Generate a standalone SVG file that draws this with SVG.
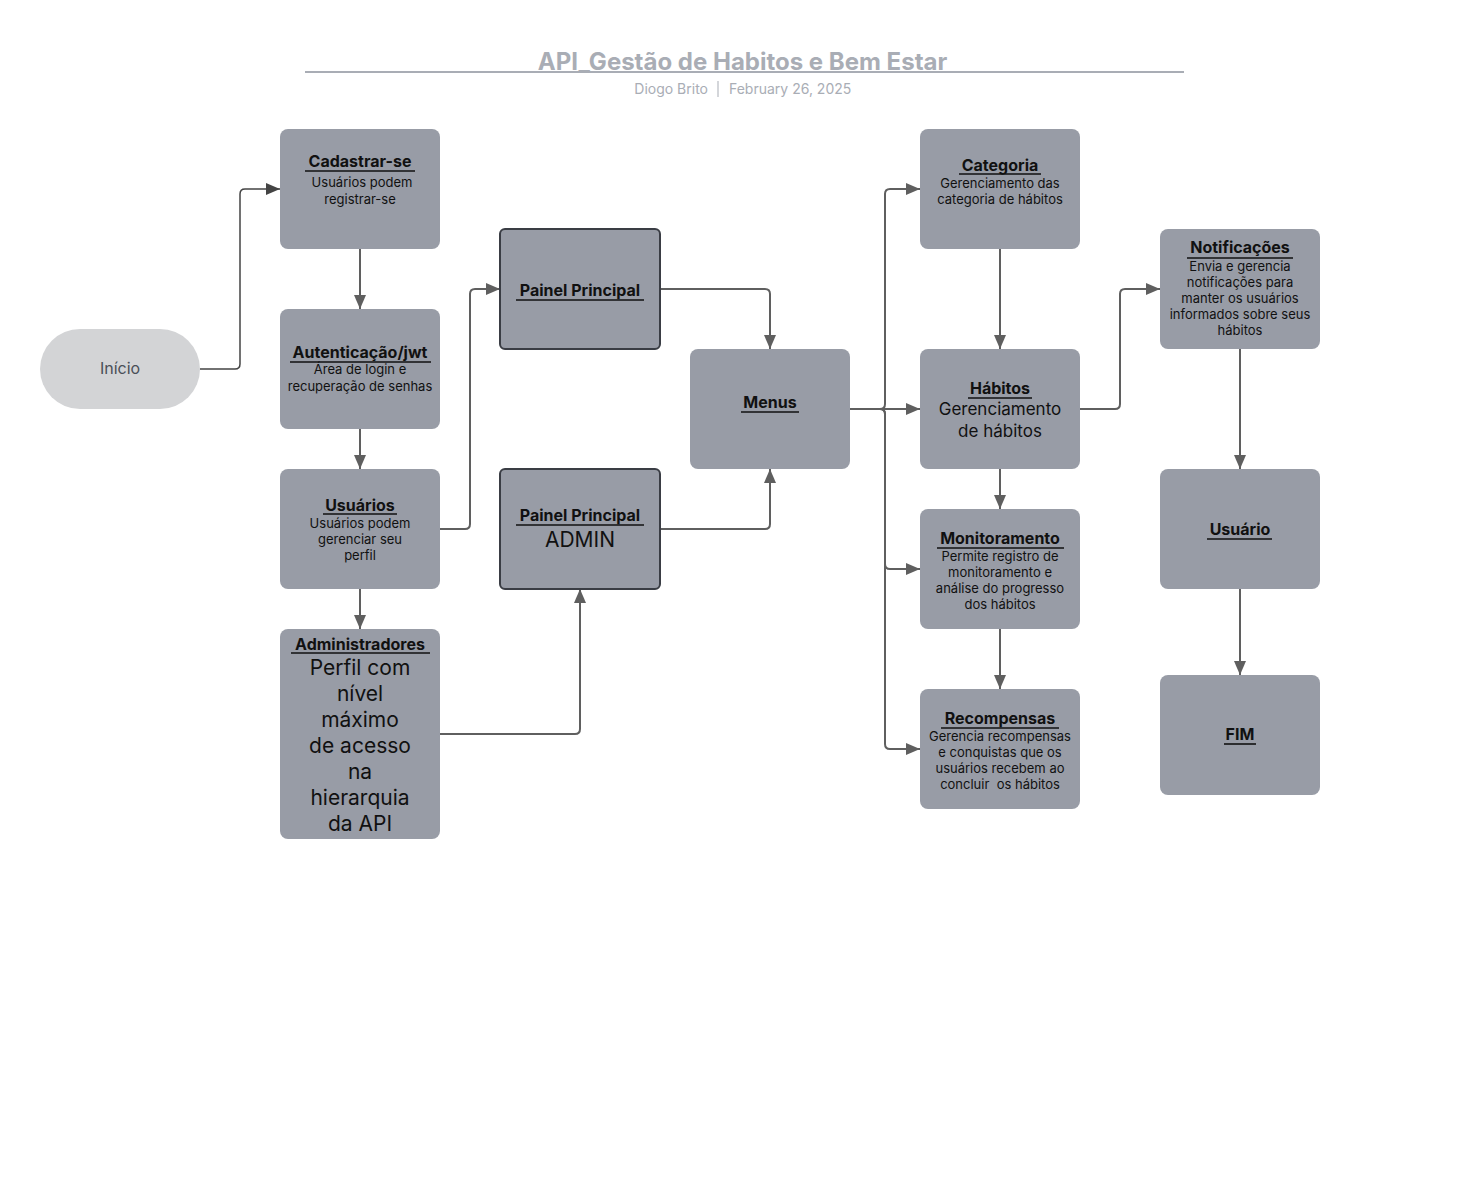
<svg xmlns="http://www.w3.org/2000/svg" width="1460" height="1190" viewBox="0 0 1460 1190">
<defs>
<marker id="arr" markerUnits="userSpaceOnUse" markerWidth="14" markerHeight="12" refX="14" refY="6" orient="auto">
<path d="M0,0 L14,6 L0,12 z" fill="#5f5f5f"/>
</marker>
<marker id="arr2" markerUnits="userSpaceOnUse" markerWidth="14" markerHeight="12" refX="14" refY="6" orient="auto">
<path d="M0,0 L14,6 L0,12 z" fill="#444"/>
</marker>
<style>
.n{fill:#989ca6}
.p{fill:#989ca6;stroke:#3a3d44;stroke-width:2}
.t{font-family:Inter,"Liberation Sans",sans-serif;font-weight:700;font-size:16px;fill:#111;text-anchor:middle}
.d{font-family:Inter,"Liberation Sans",sans-serif;font-size:13px;fill:#111;text-anchor:middle}
.b{font-family:Inter,"Liberation Sans",sans-serif;font-size:17px;fill:#111;text-anchor:middle}
.B{font-family:Inter,"Liberation Sans",sans-serif;font-size:21px;fill:#111;text-anchor:middle}
.u{stroke:#111;stroke-width:1.6}
.c{fill:none;stroke:#5f5f5f;stroke-width:2;marker-end:url(#arr)}
</style>
</defs>
<rect width="1460" height="1190" fill="#fff"/>
<g id="header">
<text x="742.5" y="70" font-family="Inter,'Liberation Sans',sans-serif" font-weight="700" font-size="24" fill="#a9adb5" text-anchor="middle">API_Gestão de Habitos e Bem Estar</text>
<line x1="305" y1="72" x2="1184" y2="72" stroke="#a9adb5" stroke-width="2"/>
<text x="708" y="94" font-family="Inter,'Liberation Sans',sans-serif" font-size="14" fill="#a9adb5" text-anchor="end">Diogo Brito</text>
<line x1="718" y1="81" x2="718" y2="97" stroke="#a9adb5" stroke-width="1"/>
<text x="729" y="94" font-family="Inter,'Liberation Sans',sans-serif" font-size="14" fill="#a9adb5">February 26, 2025</text>
</g>
<g id="connectors">
<path d="M200,369 H235 Q240,369 240,364 V194 Q240,189 245,189 H280" fill="none" stroke="#444" stroke-width="1.5" marker-end="url(#arr2)"/>
<path class="c" d="M360,249 V309"/>
<path class="c" d="M360,429 V469"/>
<path class="c" d="M360,589 V629"/>
<path class="c" d="M440,529 H465 Q470,529 470,524 V294 Q470,289 475,289 H500"/>
<path class="c" d="M440,734 H575 Q580,734 580,729 V589"/>
<path class="c" d="M660,289 H765 Q770,289 770,294 V349"/>
<path class="c" d="M660,529 H765 Q770,529 770,524 V469"/>
<path class="c" d="M850,409 H920"/>
<path class="c" d="M850,409 H880 Q885,409 885,404 V194 Q885,189 890,189 H920"/>
<path class="c" d="M850,409 H880 Q885,409 885,414 V564 Q885,569 890,569 H920"/>
<path class="c" d="M850,409 H880 Q885,409 885,414 V744 Q885,749 890,749 H920"/>
<path class="c" d="M1000,249 V349"/>
<path class="c" d="M1000,469 V509"/>
<path class="c" d="M1000,629 V689"/>
<path class="c" d="M1080,409 H1115 Q1120,409 1120,404 V294 Q1120,289 1125,289 H1160"/>
<path class="c" d="M1240,349 V469"/>
<path class="c" d="M1240,589 V675"/>
</g>
<g id="inicio">
<rect x="40" y="329" width="160" height="80" rx="40" fill="#d3d4d6"/>
<text x="120" y="374" font-family="Inter,'Liberation Sans',sans-serif" font-size="16" fill="#4a4f58" text-anchor="middle">Início</text>
</g>
<g id="cadastrar">
<rect class="n" x="280" y="129" width="160" height="120" rx="8"/>
<text class="t" x="360" y="167">Cadastrar-se</text>
<line class="u" x1="305" y1="171" x2="415" y2="171"/>
<text class="d" x="362" y="187">Usuários podem</text>
<text class="d" x="360" y="204">registrar-se</text>
</g>
<g id="autenticacao">
<rect class="n" x="280" y="309" width="160" height="120" rx="8"/>
<text class="t" x="360" y="358">Autenticação/jwt</text>
<line class="u" x1="290" y1="362" x2="431" y2="362"/>
<text class="d" x="360" y="374">Área de login e</text>
<text class="d" x="360" y="391">recuperação de senhas</text>
</g>
<g id="usuarios">
<rect class="n" x="280" y="469" width="160" height="120" rx="8"/>
<text class="t" x="360" y="511">Usuários</text>
<line class="u" x1="323" y1="514" x2="397" y2="514"/>
<text class="d" x="360" y="528">Usuários podem</text>
<text class="d" x="360" y="544">gerenciar seu</text>
<text class="d" x="360" y="560">perfil</text>
</g>
<g id="administradores">
<rect class="n" x="280" y="629" width="160" height="210" rx="8"/>
<text class="t" x="360" y="650">Administradores</text>
<line class="u" x1="291" y1="653" x2="430" y2="653"/>
<text class="B" x="360" y="675">Perfil com</text>
<text class="B" x="360" y="701">nível</text>
<text class="B" x="360" y="727">máximo</text>
<text class="B" x="360" y="753">de acesso</text>
<text class="B" x="360" y="779">na</text>
<text class="B" x="360" y="805">hierarquia</text>
<text class="B" x="360" y="831">da API</text>
</g>
<g id="painel">
<rect class="p" x="500" y="229" width="160" height="120" rx="5"/>
<text class="t" x="580" y="296">Painel Principal</text>
<line class="u" x1="516" y1="300" x2="644" y2="300"/>
</g>
<g id="painel-admin">
<rect class="p" x="500" y="469" width="160" height="120" rx="5"/>
<text class="t" x="580" y="521">Painel Principal</text>
<line class="u" x1="516" y1="525" x2="644" y2="525"/>
<text class="B" x="580" y="547">ADMIN</text>
</g>
<g id="menus">
<rect class="n" x="690" y="349" width="160" height="120" rx="8"/>
<text class="t" x="770" y="408">Menus</text>
<line class="u" x1="741" y1="412" x2="799" y2="412"/>
</g>
<g id="categoria">
<rect class="n" x="920" y="129" width="160" height="120" rx="8"/>
<text class="t" x="1000" y="171">Categoria</text>
<line class="u" x1="959" y1="174" x2="1041" y2="174"/>
<text class="d" x="1000" y="188">Gerenciamento das</text>
<text class="d" x="1000" y="204">categoria de hábitos</text>
</g>
<g id="habitos">
<rect class="n" x="920" y="349" width="160" height="120" rx="8"/>
<text class="t" x="1000" y="394">Hábitos</text>
<line class="u" x1="968" y1="398" x2="1032" y2="398"/>
<text class="b" x="1000" y="415">Gerenciamento</text>
<text class="b" x="1000" y="437">de hábitos</text>
</g>
<g id="monitoramento">
<rect class="n" x="920" y="509" width="160" height="120" rx="8"/>
<text class="t" x="1000" y="544">Monitoramento</text>
<line class="u" x1="937" y1="548" x2="1064" y2="548"/>
<text class="d" x="1000" y="561">Permite registro de</text>
<text class="d" x="1000" y="577">monitoramento e</text>
<text class="d" x="1000" y="593">análise do progresso</text>
<text class="d" x="1000" y="609">dos hábitos</text>
</g>
<g id="recompensas">
<rect class="n" x="920" y="689" width="160" height="120" rx="8"/>
<text class="t" x="1000" y="724">Recompensas</text>
<line class="u" x1="941" y1="728" x2="1059" y2="728"/>
<text class="d" x="1000" y="741">Gerencia recompensas</text>
<text class="d" x="1000" y="757">e conquistas que os</text>
<text class="d" x="1000" y="773">usuários recebem ao</text>
<text class="d" x="1000" y="789" xml:space="preserve">concluir  os hábitos</text>
</g>
<g id="notificacoes">
<rect class="n" x="1160" y="229" width="160" height="120" rx="8"/>
<text class="t" x="1240" y="253">Notificações</text>
<line class="u" x1="1187" y1="258" x2="1293" y2="258"/>
<text class="d" x="1240" y="271">Envia e gerencia</text>
<text class="d" x="1240" y="287">notificações para</text>
<text class="d" x="1240" y="303">manter os usuários</text>
<text class="d" x="1240" y="319">informados sobre seus</text>
<text class="d" x="1240" y="335">hábitos</text>
</g>
<g id="usuario">
<rect class="n" x="1160" y="469" width="160" height="120" rx="8"/>
<text class="t" x="1240" y="535">Usuário</text>
<line class="u" x1="1207" y1="539" x2="1272" y2="539"/>
</g>
<g id="fim">
<rect class="n" x="1160" y="675" width="160" height="120" rx="8"/>
<text class="t" x="1240" y="740">FIM</text>
<line class="u" x1="1224" y1="744" x2="1256" y2="744"/>
</g>
</svg>
